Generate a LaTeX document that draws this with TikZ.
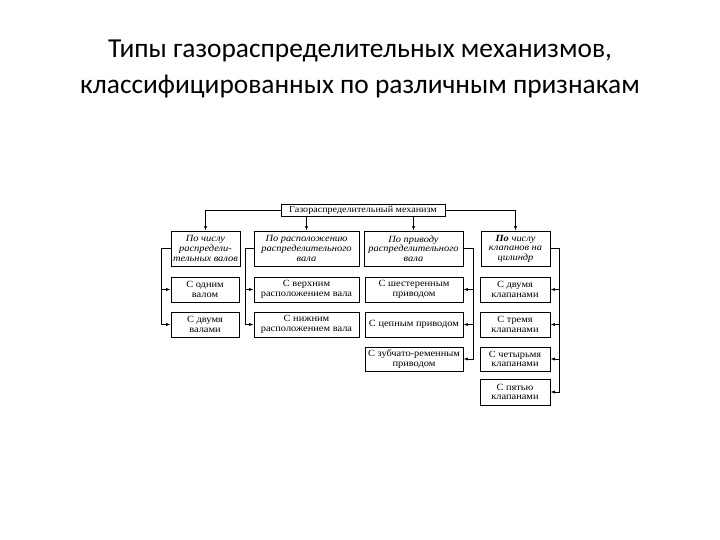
\documentclass[tikz,border=0pt]{standalone}
\usepackage{fontspec}
\setmainfont{Liberation Serif}[FakeStretch=1.1]
\newfontfamily\titlefont{Carlito}
\usetikzlibrary{arrows.meta,calc}
\begin{document}
\begin{tikzpicture}[x=1bp,y=-1bp,
  box/.style={draw,line width=0.9pt,rectangle,inner sep=0pt,align=center,
    font=\fontsize{9.5}{9.5}\selectfont},
  hbox/.style={box,font=\fontsize{9.5}{9.6}\selectfont\itshape},
  conn/.style={line width=0.75pt},
  arr/.style={conn,-{Latex[length=4.5pt,width=3.2pt]}}]
\useasboundingbox (0,0) rectangle (720,540);
\node[font=\titlefont\fontsize{27.5}{37}\selectfont,align=center] (title) at (360,69)
  {Типы газораспределительных механизмов,\\классифицированных по различным признакам};
% top
\node[box,font=\fontsize{9.2}{9.2}\selectfont,minimum width=164bp,minimum height=12bp] (top) at (363,210) {Газораспределительный механизм};
% row 2
\node[hbox,minimum width=69bp,minimum height=35bp] (h1) at (205.5,248.5) {По числу\\распредели-\\тельных валов};
\node[hbox,minimum width=105bp,minimum height=35bp] (h2) at (306.5,248.5) {По расположению\\распределительного\\вала};
\node[hbox,minimum width=99bp,minimum height=35bp] (h3) at (413.5,248.5) {По приводу\\распределительного\\вала};
\node[hbox,minimum width=69bp,minimum height=35bp] (h4) at (515.5,248.5) {\textbf{По} числу\\клапанов на\\цилиндр};
% row 3
\node[box,minimum width=68bp,minimum height=25bp] (a1) at (205,289.5) {С одним\\валом};
\node[box,minimum width=105bp,minimum height=25bp] (a2) at (306.5,289.5) {С верхним\\расположением вала};
\node[box,minimum width=98bp,minimum height=25bp] (a3) at (414,289.5) {С шестеренным\\приводом};
\node[box,minimum width=70bp,minimum height=25bp] (a4) at (515,289.5) {С двумя\\клапанами};
% row 4
\node[box,minimum width=68bp,minimum height=25bp] (b1) at (205,324.5) {С двумя\\валами};
\node[box,minimum width=105bp,minimum height=25bp] (b2) at (306.5,324.5) {С нижним\\расположением вала};
\node[box,minimum width=98bp,minimum height=25bp] (b3) at (414,324.5) {С цепным приводом};
\node[box,minimum width=70bp,minimum height=25bp] (b4) at (515,324.5) {С тремя\\клапанами};
% row 5
\node[box,minimum width=98bp,minimum height=24bp] (c3) at (414,359) {С зубчато-ременным\\приводом};
\node[box,minimum width=70bp,minimum height=24bp] (c4) at (515,359) {С четырьмя\\клапанами};
% row 6
\node[box,minimum width=70bp,minimum height=26bp] (d4) at (515,392) {С пятью\\клапанами};
% top connectors
\draw[arr] (top.west) -| (h1.north);
\draw[arr] (top.east) -| (h4.north);
\draw[arr] (top.south -| h2.north) -- (h2.north);
\draw[arr] (top.south -| h3.north) -- (h3.north);
% column 1
\coordinate (k1) at ($(h1.west)+(-9,0)$);
\draw[arr] (h1.west) -- (k1) |- (b1.west);
\draw[arr] (k1 |- a1.west) -- (a1.west);
% column 2
\coordinate (k2) at ($(h2.west)+(-8,0)$);
\draw[arr] (h2.west) -- (k2) |- (b2.west);
\draw[arr] (k2 |- a2.west) -- (a2.west);
% column 3
\coordinate (k3) at ($(h3.east)+(10,0)$);
\draw[arr] (h3.east) -- (k3) |- (c3.east);
\draw[arr] (k3 |- a3.east) -- (a3.east);
\draw[arr] (k3 |- b3.east) -- (b3.east);
% column 4
\coordinate (k4) at ($(h4.east)+(9,0)$);
\draw[arr] (h4.east) -- (k4) |- (d4.east);
\draw[arr] (k4 |- a4.east) -- (a4.east);
\draw[arr] (k4 |- b4.east) -- (b4.east);
\draw[arr] (k4 |- c4.east) -- (c4.east);
\end{tikzpicture}
\end{document}
